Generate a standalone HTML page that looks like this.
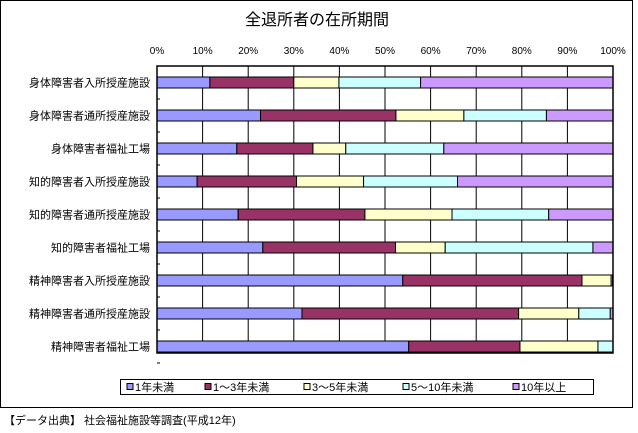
<!DOCTYPE html>
<html><head><meta charset="utf-8"><style>
body{margin:0;background:#fff;width:638px;height:428px;overflow:hidden;font-family:"Liberation Sans","Noto Sans CJK JP",sans-serif;}
</style></head><body>
<svg width="638" height="428" xmlns="http://www.w3.org/2000/svg" id="svg" font-family="Liberation Sans, Noto Sans CJK JP, sans-serif">
<rect x="0.5" y="0.5" width="632" height="407" fill="#fff" stroke="#000"/>
<text x="317" y="25" text-anchor="middle" font-size="16">全退所者の在所期間</text>
<g id="plot"></g>
<rect x="120.5" y="379.5" width="473" height="15" fill="#fff" stroke="#000"/>
<g id="legend"></g>
<text x="4" y="424" font-size="11">【データ出典】 社会福祉施設等調査(平成12年)</text>
</svg>
<script>
const categories=["身体障害者入所授産施設","身体障害者通所授産施設","身体障害者福祉工場","知的障害者入所授産施設","知的障害者通所授産施設","知的障害者福祉工場","精神障害者入所授産施設","精神障害者通所授産施設","精神障害者福祉工場"];
const seriesNames=["1年未満","1～3年未満","3～5年未満","5～10年未満","10年以上"];
const s1=[11.6,22.7,17.5,8.8,17.8,23.2,53.9,31.8,55.2];
const s2=[18.4,29.7,16.7,21.8,27.8,29.1,39.3,47.5,24.4];
const s3=[9.9,14.9,7.2,14.7,19.1,10.9,6.4,13.2,17.1];
const s4=[17.9,18.1,21.5,20.6,21.2,32.4,0.3,6.9,3.3];
const s5=[42.2,14.6,37.1,34.1,14.1,4.4,0.1,0.6,0];
const ticks=["0%","10%","20%","30%","40%","50%","60%","70%","80%","90%","100%"];
const colors=["#9999ff","#993366","#ffffcc","#ccffff","#cc99ff"];
const NS="http://www.w3.org/2000/svg";
const L=157,R=613,T=66,B=353;
const xs=v=>L+(R-L)*v/100;
const pitch=33, firstC=82.5;
const yc_=i=>firstC+pitch*i;
const barH=11;
const plot=document.getElementById('plot');
function mk(tag,attrs,parent){const e=document.createElementNS(NS,tag);for(const k in attrs)e.setAttribute(k,attrs[k]);parent.appendChild(e);return e;}
for(let i=0;i<ticks.length;i++){
 const x=xs(i*10);
 const g=mk('line',{x1:x,x2:x,y1:T,y2:B,stroke:'#000','stroke-width':1},plot);
 
 
 const t=mk('text',{x:x,y:54,'text-anchor':'middle','font-size':10},plot);
 t.textContent=ticks[i];
 
 
}
const series=[s1,s2,s3,s4,s5];
categories.forEach((c,i)=>{
 const yc=yc_(i);
 const ty=yc+pitch/2;
 const tk=mk('line',{x1:L,x2:L+3,y1:ty,y2:ty,stroke:'#000'},plot);
 
 
 const t=mk('text',{x:150,y:yc+4,'text-anchor':'end','font-size':11},plot);
 t.textContent=c;
 
 
 let cum=0;
 series.forEach((s,k)=>{
  const v=s[i]; if(v<=0){return;}
  const r=mk('rect',{x:xs(cum),y:yc-barH/2,width:xs(cum+v)-xs(cum),height:barH,fill:colors[k],stroke:'#000','stroke-width':1},plot);
  
  
  cum+=v;
 });
});
mk('rect',{x:L,y:T,width:R-L,height:B-T,fill:'none',stroke:'#000','stroke-width':1.5},plot);
const lg=document.getElementById('legend');
const lx=[133,211,310,409,519];
seriesNames.forEach((n,k)=>{
 const r=mk('rect',{x:lx[k]-6,y:383.5,width:6,height:6,fill:colors[k],stroke:'#000','stroke-width':1},lg);
 
 
 const t=mk('text',{x:lx[k]+2,y:391,'font-size':11},lg);
 t.textContent=n;
 
 
});
</script>
</body></html>
